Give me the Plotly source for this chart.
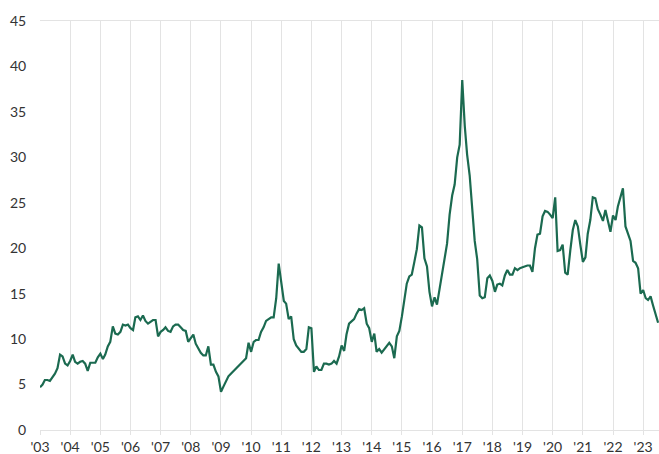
import pandas as pd
import plotly.graph_objects as go

# monthly values, Jan 2003 - Jul 2023
v2003 = [4.7, 5.0, 5.5, 5.5, 5.4, 5.8, 6.2, 6.8, 8.3, 8.1, 7.3, 7.1]
v2004 = [7.6, 8.3, 7.5, 7.3, 7.5, 7.6, 7.3, 6.5, 7.4, 7.4, 7.4, 8.0]
v2005 = [8.4, 7.8, 8.3, 9.2, 9.7, 11.4, 10.6, 10.5, 10.8, 11.6, 11.5, 11.6]
v2006 = [11.2, 11.0, 12.4, 12.5, 12.1, 12.6, 12.0, 11.7, 11.9, 12.1, 12.1, 10.3]
v2007 = [10.8, 11.0, 11.3, 10.9, 10.8, 11.4, 11.6, 11.6, 11.3, 11.0, 10.9, 9.7]
v2008 = [10.1, 10.5, 9.5, 8.9, 8.5, 8.2, 8.2, 9.2, 7.2, 7.2, 6.4, 5.9]
v2009 = [4.2, 4.8, 5.4, 5.9, 6.2, 6.5, 6.7, 7.0, 7.3, 7.7, 7.9, 9.6]
v2010 = [8.6, 9.7, 9.9, 9.9, 10.8, 11.3, 12.0, 12.2, 12.4, 12.4, 14.5, 18.3]
v2011 = [16.3, 14.2, 13.9, 12.2, 12.5, 10.0, 9.3, 8.9, 8.6, 8.6, 8.9, 11.3]
v2012 = [11.2, 6.4, 7.0, 6.6, 6.6, 7.3, 7.3, 7.2, 7.3, 7.6, 7.3, 8.1]
v2013 = [9.3, 8.7, 10.5, 11.7, 11.9, 12.2, 12.8, 13.3, 13.2, 13.4, 11.7, 11.2]
v2014 = [9.7, 10.6, 8.6, 8.9, 8.5, 8.9, 9.3, 9.6, 9.2, 7.9, 10.3, 10.9]
v2015 = [12.5, 14.3, 16.1, 16.9, 17.1, 18.5, 19.9, 22.5, 22.3, 18.9, 18.0, 15.2]
v2016 = [13.6, 14.6, 13.8, 15.5, 17.2, 19.1, 20.5, 23.7, 25.8, 27.0, 30.0, 31.4]
v2017 = [38.5, 33.4, 30.3, 28.0, 24.8, 20.8, 18.8, 14.8, 14.5, 14.6, 16.7, 17.0]
v2018 = [16.4, 15.2, 16.0, 16.1, 15.9, 17.0, 17.6, 17.1, 17.1, 17.8, 17.6, 17.8]
v2019 = [17.9, 18.0, 18.1, 18.1, 17.4, 20.0, 21.5, 21.6, 23.5, 24.1, 24.0, 23.7]
v2020 = [23.3, 25.6, 19.7, 19.8, 20.4, 17.3, 17.1, 19.7, 22.0, 23.1, 22.4, 20.4]
v2021 = [18.5, 19.0, 21.6, 23.1, 25.6, 25.5, 24.3, 23.7, 23.0, 24.2, 22.9, 21.8]
v2022 = [23.6, 23.1, 24.6, 25.5, 26.6, 22.4, 21.6, 20.8, 18.6, 18.4, 17.8, 15.0]
v2023 = [15.4, 14.5, 14.3, 14.7, 13.7, 12.7, 11.8]

values = (v2003 + v2004 + v2005 + v2006 + v2007 + v2008 + v2009 + v2010 + v2011
          + v2012 + v2013 + v2014 + v2015 + v2016 + v2017 + v2018 + v2019
          + v2020 + v2021 + v2022 + v2023)
dates = pd.date_range("2003-01-01", periods=len(values), freq="MS")

years = list(range(2003, 2024))
tick_vals = [f"{y}-01-01" for y in years]
tick_text = [f"'{y % 100:02d}" for y in years]

fig = go.Figure(go.Scatter(x=dates, y=values, mode="lines",
                           line=dict(color="#1b6a50", width=2.2)))

fig.update_layout(
    width=659, height=454,
    margin=dict(l=40, r=0, t=21, b=24),
    plot_bgcolor="white", paper_bgcolor="white",
    showlegend=False,
    font=dict(family="Lato, sans-serif", size=14, color="#333333"),
)
fig.update_xaxes(range=["2003-01-01", "2023-07-12"], automargin=False,
                 tickvals=tick_vals, ticktext=tick_text,
                 showgrid=True, gridcolor="#e3e3e3", gridwidth=1,
                 showline=True, linecolor="#e3e3e3", mirror=True,
                 ticks="outside", ticklen=4, tickcolor="#e3e3e3",
                 zeroline=False)
fig.update_yaxes(range=[0, 45], dtick=5, showgrid=False, zeroline=False,
                 automargin=False,
                 ticks="outside", ticklen=10, tickcolor="rgba(0,0,0,0)")

# drop the browser's default 8px page margin, no modebar
fig.write_html("out.html", config={"displayModeBar": False},
               post_script="document.body.style.margin='0';")
